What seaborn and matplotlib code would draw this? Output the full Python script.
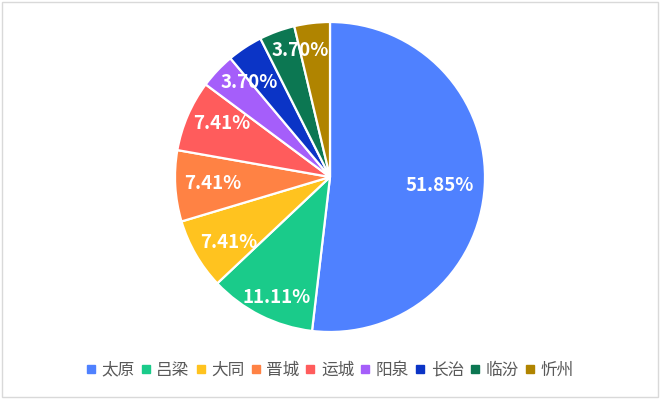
import numpy as np
import matplotlib
matplotlib.use("Agg")
import matplotlib.pyplot as plt
import seaborn as sns
from matplotlib.lines import Line2D
from matplotlib.patches import Rectangle

# 数据
cities = ["太原", "吕梁", "大同", "晋城", "运城", "阳泉", "长治", "临汾", "忻州"]
counts = [14, 3, 2, 2, 2, 1, 1, 1, 1]
colors = ["#4F81FF", "#1ACB8A", "#FFC31F", "#FF8244", "#FF5C5C",
          "#A55EFA", "#0B34C6", "#0C7752", "#B08400"]
# 标签位置 (半径比例, 角度偏移), None 表示不显示
label_pos = [(0.71, -1), (0.85, 3), (0.78, 3), (0.755, 0), (0.78, -3),
             (0.8, -6), None, (0.84, -7), None]

sns.set_theme(style="white")
plt.rcParams['font.family'] = ['Noto Sans CJK SC', 'DejaVu Sans']

fig = plt.figure(figsize=(6.6, 4.09), dpi=100)
ax = fig.add_axes([175 / 660, 77 / 409, 310 / 660, 310 / 409])

wedges, _ = ax.pie(counts, colors=colors, startangle=90, counterclock=False,
                   radius=1, wedgeprops=dict(edgecolor="white", linewidth=1.6))
ax.set_xlim(-1, 1)
ax.set_ylim(-1, 1)
ax.set_aspect("auto")
ax.axis("off")

total = sum(counts)
for w, c, pos in zip(wedges, counts, label_pos):
    if pos is None:
        continue
    dist, shift = pos
    ang = np.deg2rad((w.theta1 + w.theta2) / 2 + shift)
    ax.text(dist * np.cos(ang), dist * np.sin(ang), f"{c / total * 100:.2f}%",
            ha="center", va="center", color="white", fontsize=13.5,
            fontweight="bold")

handles = [Line2D([], [], marker="s", linestyle="none", markersize=5.5,
                  markerfacecolor=col, markeredgecolor=col) for col in colors]
fig.legend(handles, cities, loc="center", bbox_to_anchor=(0.5, 39 / 409),
           ncol=len(cities), frameon=False, fontsize=12, labelcolor="#595959",
           handlelength=0.55, handletextpad=0.35, columnspacing=0.4)

fig.patches.append(Rectangle((1.5 / 660, 12.5 / 409), 656.5 / 660, 395 / 409,
                             transform=fig.transFigure, fill=False,
                             edgecolor="#D9D9D9", linewidth=1))

fig.savefig("out.png", dpi=100)
